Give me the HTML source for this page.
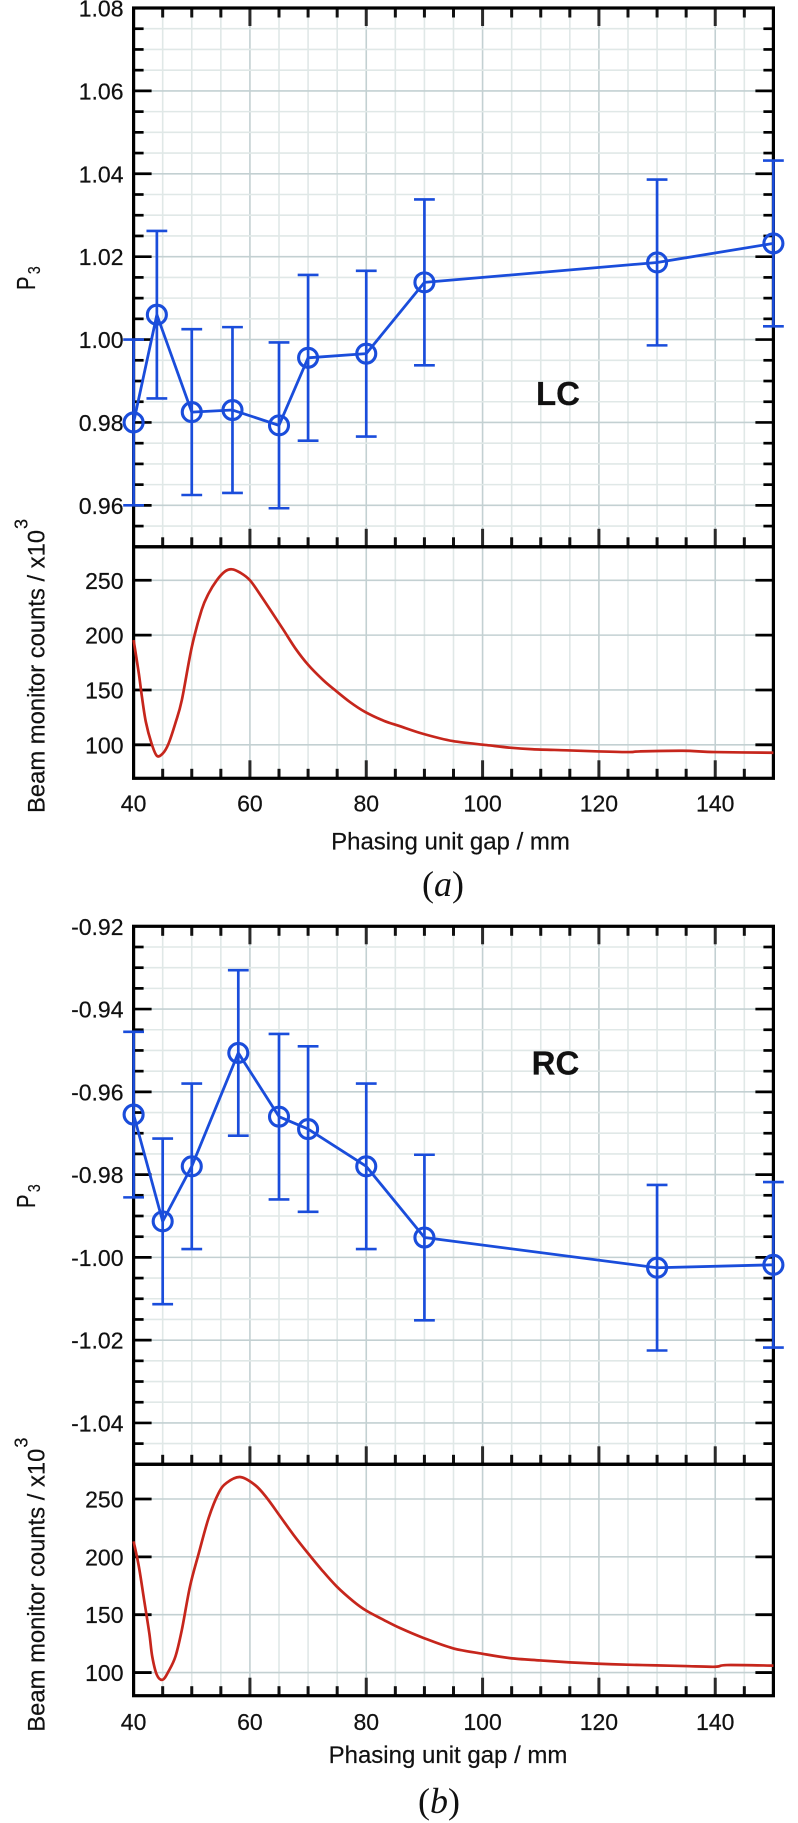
<!DOCTYPE html>
<html lang="en">
<head>
<meta charset="utf-8">
<title>P3 and beam monitor counts vs phasing unit gap</title>
<style>
html,body{margin:0;padding:0;background:#fff;}
svg{display:block;}
text{font-family:"Liberation Sans",sans-serif;fill:#111;stroke:#111;stroke-width:.2px;}
</style>
</head>
<body>
<svg id="figure" xmlns="http://www.w3.org/2000/svg" width="798" height="1823" viewBox="0 0 798 1823">
  <rect x="0" y="0" width="798" height="1823" fill="#fff"/>
  <g id="layer-grid"></g>
  <g id="layer-axes"></g>
  <g id="layer-series"></g>

  <text transform="translate(35,290) rotate(-90) scale(.78,1)" font-size="26">P<tspan dx="3" dy="5" font-size="18">3</tspan></text>
  <text transform="translate(44.3,813) rotate(-90)" font-size="23.8">Beam monitor counts / x10<tspan dx="1" dy="-17" font-size="18">3</tspan></text>
  <text x="450.5" y="849.3" text-anchor="middle" font-size="24">Phasing unit gap / mm</text>
  <text x="558" y="405" text-anchor="middle" font-size="33" font-weight="700">LC</text>
  <text x="443" y="896" text-anchor="middle" font-size="36" style="font-family:'Liberation Serif',serif;stroke:none">(<tspan font-style="italic">a</tspan>)</text>

  <text transform="translate(35,1208) rotate(-90) scale(.78,1)" font-size="26">P<tspan dx="3" dy="5" font-size="18">3</tspan></text>
  <text transform="translate(44.3,1731.7) rotate(-90)" font-size="23.8">Beam monitor counts / x10<tspan dx="1" dy="-17" font-size="18">3</tspan></text>
  <text x="448" y="1763" text-anchor="middle" font-size="24">Phasing unit gap / mm</text>
  <text x="555.5" y="1074.3" text-anchor="middle" font-size="33" font-weight="700">RC</text>
  <text x="439" y="1813" text-anchor="middle" font-size="36" style="font-family:'Liberation Serif',serif;stroke:none">(<tspan font-style="italic">b</tspan>)</text>
</svg>

<script>
// ---- chart data ----
const xTickLabels = ['40', '60', '80', '100', '120', '140'];

const p3TickLabelsA = ['1.08', '1.06', '1.04', '1.02', '1.00', '0.98', '0.96'];
const gapA = [40, 44, 50, 57, 65, 70, 80, 90, 130, 150];
const p3A = [0.980, 1.006, 0.9825, 0.983, 0.9793, 0.9956, 0.9966, 1.0138, 1.0186, 1.0232];
const errA = [0.02, 0.0202, 0.02, 0.02, 0.02, 0.02, 0.02, 0.02, 0.02, 0.02];

const countTickLabelsA = ['250', '200', '150', '100'];
const curveGapA = [40, 40.9, 41.4, 42.1, 43.1, 44, 45, 46, 47.2, 48.3, 50, 51.7, 52.9, 54.3, 55.7, 56.9, 58.3, 60, 62, 64, 65.8, 67.8, 70, 72.6, 74.6, 77.2, 79.8, 83, 85.8, 89.8, 94.9, 100.7, 104.7, 108.6, 114.4, 120, 125.3, 127, 134.4, 140, 150];
const curveCountsA = [195.5, 165, 145, 121, 101, 90, 92, 101, 120, 141, 189, 223, 238, 250, 258, 260, 257, 250, 235, 219, 204.5, 188, 173, 159, 150, 139, 130, 122, 117, 110, 103.4, 99.8, 97.4, 96, 95, 94, 93.4, 94, 94.6, 93.4, 92.8];

const p3TickLabelsB = ['-0.92', '-0.94', '-0.96', '-0.98', '-1.00', '-1.02', '-1.04'];
const gapB = [40, 45, 50, 58, 65, 70, 80, 90, 130, 150];
const p3B = [-0.9655, -0.9913, -0.978, -0.9506, -0.966, -0.969, -0.978, -0.9952, -1.0025, -1.0018];
const errB = [0.02, 0.02, 0.02, 0.02, 0.02, 0.02, 0.02, 0.02, 0.02, 0.02];

const countTickLabelsB = ['250', '200', '150', '100'];
const curveGapB = [40, 40.9, 41.8, 42.7, 43.2, 44, 45, 46, 47.2, 48.3, 49.7, 51.2, 52.9, 54.6, 56, 58.3, 60.9, 62.9, 65.2, 67.5, 70, 72.3, 74.9, 77.8, 80, 83, 85.8, 89.8, 94.9, 99.9, 104.7, 109.9, 115, 120, 124.8, 129.9, 134.8, 140, 142, 150];
const curveCountsB = [213.4, 191.8, 163, 134, 114, 98, 93.8, 101, 114, 137, 174.5, 203, 233.6, 255, 264, 269, 262, 251, 235, 219, 203, 189, 174.5, 161.5, 153.5, 145.5, 138.5, 130, 121, 116.3, 112.5, 110.5, 108.8, 107.6, 106.8, 106.2, 105.6, 105, 106.5, 106];

// ---- layout ----
const SVG_NS = 'http://www.w3.org/2000/svg';
const layerGrid = document.getElementById('layer-grid');
const layerAxes = document.getElementById('layer-axes');
const layerSeries = document.getElementById('layer-series');
const FRAME_LEFT = 133.6, FRAME_RIGHT = 773.4;
const GRID_MAJOR = '#c3d0d2', GRID_MINOR = '#e0e8e7';
const BLUE = '#1a4ddb', RED = '#c6261c';

function xScale(v) { return FRAME_LEFT + (v - 40) * (FRAME_RIGHT - FRAME_LEFT) / 110; }
function makeYScale(lo, hi, bottom, top) {
  return function (v) { return bottom - (v - lo) * (bottom - top) / (hi - lo); };
}
function make(tag, parent, attrs) {
  const node = document.createElementNS(SVG_NS, tag);
  for (const key in attrs) node.setAttribute(key, attrs[key]);
  parent.appendChild(node);
  return node;
}
function drawLine(parent, x1, y1, x2, y2, color, width) {
  return make('line', parent, { x1: x1, y1: y1, x2: x2, y2: y2, stroke: color, 'stroke-width': width });
}
// Smooth path through the sampled points (Catmull-Rom to Bezier)
function smoothPath(px, py) {
  let d = 'M' + px[0] + ',' + py[0];
  for (let i = 0; i < px.length - 1; i++) {
    const a = Math.max(i - 1, 0), b = Math.min(i + 2, px.length - 1);
    const c1x = px[i] + (px[i + 1] - px[a]) / 6;
    const c1y = py[i] + (py[i + 1] - py[a]) / 6;
    const c2x = px[i + 1] - (px[b] - px[i]) / 6;
    const c2y = py[i + 1] - (py[b] - py[i]) / 6;
    d += 'C' + c1x + ',' + c1y + ' ' + c2x + ',' + c2y + ' ' + px[i + 1] + ',' + py[i + 1];
  }
  return d;
}

function drawXGridAndTicks(top, bottom, topTicks) {
  for (let v = 45; v < 150; v += 5) {
    const major = xTickLabels.indexOf(String(v)) >= 0;
    const x = xScale(v);
    const grid = drawLine(layerGrid, x, top, x, bottom, major ? GRID_MAJOR : GRID_MINOR, 1.6);
    
    
    const len = major ? 18 : 9.5;
    const low = drawLine(layerAxes, x, bottom, x, bottom - len, major ? '#2a2a2a' : '#111', 3);
    
    
    if (topTicks) {
      const high = drawLine(layerAxes, x, top, x, top + len, major ? '#2a2a2a' : '#111', 3);
      
      
    }
  }
}

function drawYTick(y, len, thick) {
  const left = drawLine(layerAxes, FRAME_LEFT, y, FRAME_LEFT + len, y, '#000', thick);
  
  
  const right = drawLine(layerAxes, FRAME_RIGHT, y, FRAME_RIGHT - len, y, '#000', thick);
  
  
}

function drawYLabel(y, label) {
  const t = make('text', layerAxes, { x: 123.5, y: y + 8.5, 'text-anchor': 'end', 'font-size': 23 });
  t.textContent = label;
  
  
}

function drawFrame(top, bottom) {
  const frame = make('rect', layerAxes, { x: FRAME_LEFT, y: top, width: FRAME_RIGHT - FRAME_LEFT, height: bottom - top, fill: 'none', stroke: '#000', 'stroke-width': 3.2 });
  
  
}

function drawP3Panel(labels, gaps, values, errs, lo, hi, bottom, top) {
  const y = makeYScale(lo, hi, bottom, top);
  drawXGridAndTicks(top, bottom, true);
  const count = Math.round((hi - lo) / 0.005);
  for (let i = 1; i < count; i++) {
    const v = lo + i * 0.005;
    const major = (i - 2) % 4 === 0;
    const gy = y(v);
    const grid = drawLine(layerGrid, FRAME_LEFT, gy, FRAME_RIGHT, gy, major ? GRID_MAJOR : GRID_MINOR, 1.6);
    
    
    drawYTick(gy, major ? 18 : 10, 2.7);
  }
  labels.forEach(function (label) {
    drawYLabel(y(parseFloat(label)), label);
  });
  drawFrame(top, bottom);

  const pts = gaps.map(function (g, i) { return xScale(g) + ',' + y(values[i]); }).join(' ');
  const line = make('polyline', layerSeries, { points: pts, fill: 'none', stroke: BLUE, 'stroke-width': 2.8, 'stroke-linejoin': 'round' });
  
  

  gaps.forEach(function (g, i) {
    const cx = xScale(g);
    const hiY = y(values[i] + errs[i]);
    const loY = y(values[i] - errs[i]);
    const stem = drawLine(layerSeries, cx, hiY, cx, loY, BLUE, 2.7);
    
    
    const capTop = drawLine(layerSeries, cx - 10.4, hiY, cx + 10.4, hiY, BLUE, 2.6);
    
    
    const capBottom = drawLine(layerSeries, cx - 10.4, loY, cx + 10.4, loY, BLUE, 2.6);
    
    
    const dot = make('circle', layerSeries, { cx: cx, cy: y(values[i]), r: 9.5, fill: 'none', stroke: BLUE, 'stroke-width': 3.1 });
    
    
  });
}

function drawCountsPanel(labels, gaps, counts, lo, hi, bottom, top, labelBaseline) {
  const y = makeYScale(lo, hi, bottom, top);
  drawXGridAndTicks(top, bottom, false);
  labels.forEach(function (label) {
    const gy = y(parseFloat(label));
    const grid = drawLine(layerGrid, FRAME_LEFT, gy, FRAME_RIGHT, gy, GRID_MAJOR, 1.6);
    
    
    drawYTick(gy, 18, 2.8);
    drawYLabel(gy, label);
  });
  xTickLabels.forEach(function (label) {
    const t = make('text', layerAxes, { x: xScale(parseFloat(label)), y: labelBaseline, 'text-anchor': 'middle', 'font-size': 23 });
    t.textContent = label;
    
    
  });
  drawFrame(top, bottom);

  const curve = make('path', layerSeries, { d: smoothPath(gaps.map(xScale), counts.map(y)), fill: 'none', stroke: RED, 'stroke-width': 2.7, 'stroke-linejoin': 'round' });
  
  
}

drawP3Panel(p3TickLabelsA, gapA, p3A, errA, 0.95, 1.08, 546.8, 8);
drawCountsPanel(countTickLabelsA, curveGapA, curveCountsA, 69.5, 280.5, 778.3, 546.8, 811.7);
drawP3Panel(p3TickLabelsB, gapB, p3B, errB, -1.05, -0.92, 1464.3, 926.3);
drawCountsPanel(countTickLabelsB, curveGapB, curveCountsB, 80, 280, 1695.7, 1464.3, 1730);
</script>
</body>
</html>
